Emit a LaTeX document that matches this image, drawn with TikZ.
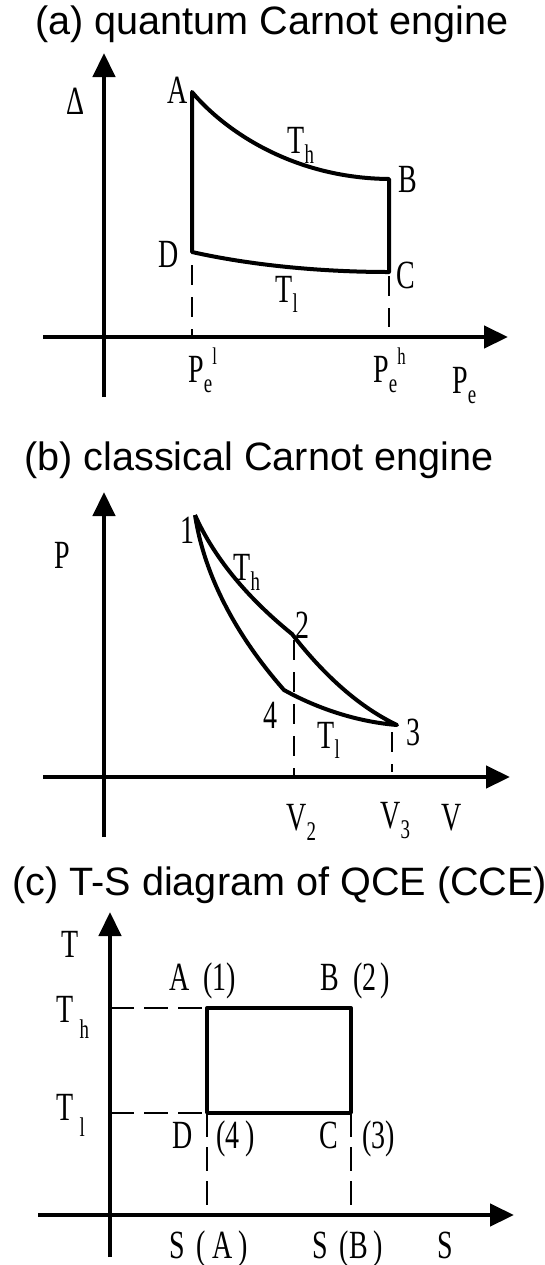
\documentclass[tikz,border=0pt]{standalone}
\usepackage{fontspec}
\setmainfont{Liberation Serif}[FakeStretch=0.7]
\newfontfamily\titlefont{Liberation Sans}
\usetikzlibrary{arrows.meta}

\newcommand{\subtx}[1]{\raisebox{-5pt}{\fontsize{13.5}{13.5}\selectfont #1}}
\newcommand{\suptx}[1]{\raisebox{9pt}{\fontsize{12}{12}\selectfont #1}}
\newcommand{\farsub}[1]{\hspace{3pt}\raisebox{-8pt}{\fontsize{13.5}{13.5}\selectfont #1}}

\begin{document}
\begin{tikzpicture}[x=0.5pt, y=-0.5pt,
  every node/.style={inner sep=0pt, anchor=base west, font=\fontsize{20}{20}\selectfont},
  ttl/.style={font=\titlefont\fontsize{19.8}{20}\selectfont},
  axis/.style={line width=2.2pt, -{Triangle[length=12pt,width=11pt]}},
  cyc/.style={line width=2pt, line join=round},
  guide/.style={line width=0.7pt, dash pattern=on 10pt off 6pt}
]
\useasboundingbox (0,0) rectangle (545,1265);

% (a) quantum Carnot engine
\node[ttl] (ta) at (35,34) {(a) quantum Carnot engine};
\coordinate (a-y0) at (104,397);
\coordinate (a-y1) at (104,53);
\coordinate (a-x0) at (43,337);
\coordinate (a-x1) at (508,337);
\draw[axis] (a-y0) -- (a-y1);
\draw[axis] (a-x0) -- (a-x1);

\coordinate (qA) at (192,92);
\coordinate (qB) at (389,179);
\coordinate (qC) at (389,272);
\coordinate (qD) at (192,252);
\draw[cyc] (qA) .. controls (222,128) and (290,178) .. (qB) -- (qC)
  .. controls (320,272) and (250,265) .. (qD) -- cycle;
\coordinate (qDt) at (192,265);
\coordinate (qDb) at (192,337);
\coordinate (qCt) at (389,276);
\coordinate (qCb) at (389,327);
\draw[guide] (qDt) -- (qDb);
\draw[guide] (qCt) -- (qCb);

\node (la-delta) at (66,114) {Δ};
\node (la-A) at (167,103) {A};
\node (la-B) at (398,192) {B};
\node (la-C) at (396,288) {C};
\node (la-D) at (158,267) {D};
\node (la-th) at (287,153) {T\subtx{h}};
\node (la-tl) at (275,302) {T\subtx{l}};
\node (la-pl) at (188,382) {P\subtx{e}\suptx{l}};
\node (la-ph) at (373,382) {P\subtx{e}\suptx{h}};
\node (la-pe) at (452,393) {P\subtx{e}};

% (b) classical Carnot engine
\node[ttl] (tb) at (24,470) {(b) classical Carnot engine};
\coordinate (b-y0) at (104,837);
\coordinate (b-y1) at (104,492);
\coordinate (b-x0) at (43,777);
\coordinate (b-x1) at (510,777);
\draw[axis] (b-y0) -- (b-y1);
\draw[axis] (b-x0) -- (b-x1);

\coordinate (c1) at (195,515);
\coordinate (c2) at (292,634);
\coordinate (c3) at (397,725);
\coordinate (c4) at (284,690);
\draw[cyc] (c1) .. controls (215,560) and (250,600) .. (c2)
  .. controls (320,670) and (355,705) .. (c3)
  .. controls (360,722) and (320,710) .. (c4)
  .. controls (240,640) and (205,580) .. (c1);
\coordinate (c2t) at (294,640);
\coordinate (c2b) at (294,777);
\coordinate (c3t) at (392,732);
\coordinate (c3b) at (392,772);
\draw[guide] (c2t) -- (c2b);
\draw[guide] (c3t) -- (c3b);

\node (lb-1) at (180,543) {1};
\node (lb-p) at (54,568) {P};
\node (lb-th) at (233,580) {T\subtx{h}};
\node (lb-2) at (295,638) {2};
\node (lb-4) at (263,728) {4};
\node (lb-3) at (406,745) {3};
\node (lb-tl) at (317,748) {T\subtx{l}};
\node (lb-v2) at (286,830) {V\subtx{2}};
\node (lb-v3) at (380,828) {V\subtx{3}};
\node (lb-v) at (441,830) {V};

% (c) T-S diagram
\node[ttl] (tc) at (12,895) {(c) T-S diagram of QCE (CCE)};
\coordinate (c-y0) at (110,1257);
\coordinate (c-y1) at (110,912);
\coordinate (c-x0) at (38,1215);
\coordinate (c-x1) at (514,1215);
\draw[axis] (c-y0) -- (c-y1);
\draw[axis] (c-x0) -- (c-x1);

\coordinate (sA) at (207,1008);
\coordinate (sB) at (351,1008);
\coordinate (sC) at (351,1113);
\coordinate (sD) at (207,1113);
\draw[cyc, line width=1.7pt] (sA) -- (sB) -- (sC) -- (sD) -- cycle;
\coordinate (th-y) at (110,1008);
\coordinate (tl-y) at (110,1113);
\coordinate (sa-x) at (207,1215);
\coordinate (sb-x) at (351,1215);
\draw[guide, dash pattern=on 12pt off 5pt] (th-y) -- (sA);
\draw[guide, dash pattern=on 12pt off 5pt] (tl-y) -- (sD);
\draw[guide, dash pattern=on 12pt off 5pt] (sD) -- (sa-x);
\draw[guide, dash pattern=on 12pt off 5pt] (sC) -- (sb-x);

\node (lc-t) at (61,957) {T};
\node (lc-th) at (56,1022) {T\farsub{h}};
\node (lc-tl) at (56,1120) {T\farsub{l}};
\node (lc-a) at (169,990) {A\hspace{7pt}(1)};
\node (lc-b) at (320,990) {B\hspace{7pt}(2\hspace{2pt})};
\node (lc-d) at (172,1148) {D\hspace{12pt}(4\hspace{3pt})};
\node (lc-c) at (319,1148) {C\hspace{12pt}(3)};
\node (lc-sa) at (169,1258) {S\hspace{6pt}(\hspace{3pt}A\hspace{3pt})};
\node (lc-sb) at (312,1258) {S\hspace{6pt}(B\hspace{3pt})};
\node (lc-s) at (437,1258) {S};
\end{tikzpicture}
\end{document}
